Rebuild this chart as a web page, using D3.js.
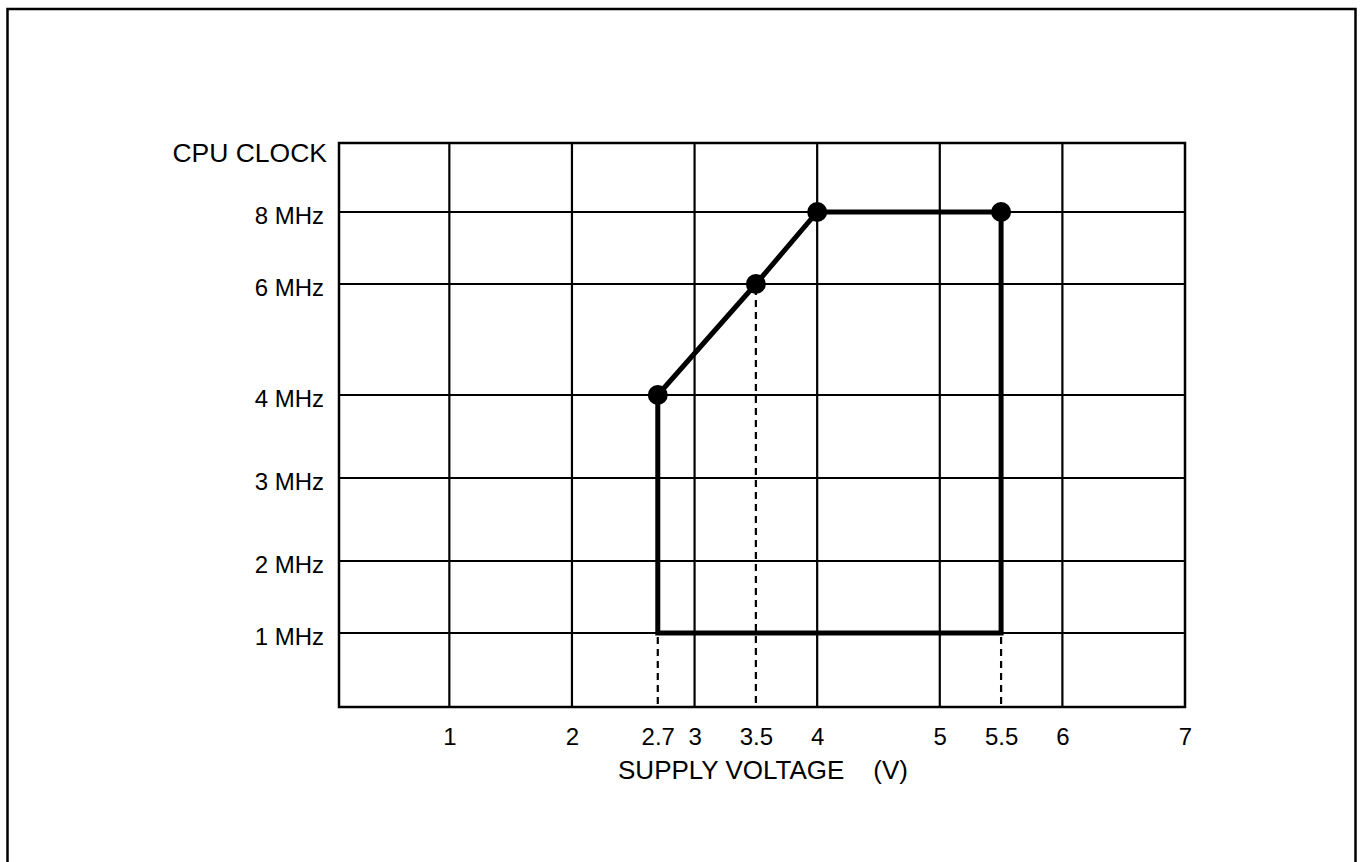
<!DOCTYPE html>
<html>
<head>
<meta charset="utf-8">
<script src="https://cdn.jsdelivr.net/npm/d3@7"></script>
<style>
	body { margin: 0; background: #fff; }
	svg { display: block; }
	text { font-family: Arial, "Liberation Sans", sans-serif; fill: #000; }
	.axis .domain { display: none; }
	.axis line { display: none; }
</style>
</head>
<body>
<svg id="chart" width="1362" height="862"></svg>
<script>
(function(){

	// values
	var xTicks = [1, 2, 2.7, 3, 3.5, 4, 5, 5.5, 6, 7];
	var xGrid = [1, 2, 3, 4, 5, 6];
	var yTicks = [1, 2, 3, 4, 6, 8];
	var yTickLabels = ["1 MHz", "2 MHz", "3 MHz", "4 MHz", "6 MHz", "8 MHz"];
	var voltage = [2.7, 2.7, 3.5, 4, 5.5, 5.5];
	var clock = [1, 4, 6, 8, 8, 1];
	var dotVoltage = [2.7, 3.5, 4, 5.5];
	var dotClock = [4, 6, 8, 8];
	var dashVoltage = [2.7, 3.5, 5.5];
	var dashFrom = [1, 6, 1];

	var margin = {top: 143, right: 177, bottom: 155, left: 339};

	var svg = d3.select("#chart");
	var width = +svg.attr("width") - margin.left - margin.right;
	var height = +svg.attr("height") - margin.top - margin.bottom;

	// outer frame (bottom edge runs off the page)
	svg.append("rect")
		.attr("x", 7.5)
		.attr("y", 9)
		.attr("width", 1348)
		.attr("height", 900)
		.attr("fill", "none")
		.attr("stroke", "#000")
		.attr("stroke-width", 2.5);

	var g = svg.append("g")
		.attr("transform", "translate(" + margin.left + "," + margin.top + ")");

	var x = d3.scaleLinear()
		.domain([0.1, 7])
		.range([0, width]);

	// the clock axis is not evenly spaced in the source, so piecewise
	var y = d3.scaleLinear()
		.domain([0, 1, 2, 3, 4, 6, 8, 10])
		.range([height, height - 74, height - 146, height - 229, height - 312, height - 423, height - 495, 0]);

	// grid
	g.append("g")
		.selectAll("line")
		.data(xGrid)
		.enter().append("line")
			.attr("x1", function(d){ return x(d); })
			.attr("x2", function(d){ return x(d); })
			.attr("y1", 0)
			.attr("y2", height)
			.attr("stroke", "#000")
			.attr("stroke-width", 2.2);

	g.append("g")
		.selectAll("line")
		.data(yTicks)
		.enter().append("line")
			.attr("x1", 0)
			.attr("x2", width)
			.attr("y1", function(d){ return y(d); })
			.attr("y2", function(d){ return y(d); })
			.attr("stroke", "#000")
			.attr("stroke-width", 2.2);

	g.append("rect")
		.attr("width", width)
		.attr("height", height)
		.attr("fill", "none")
		.attr("stroke", "#000")
		.attr("stroke-width", 2.5);

	// dashed drop lines
	g.append("g")
		.selectAll("line")
		.data(dashVoltage)
		.enter().append("line")
			.attr("x1", function(d){ return x(d); })
			.attr("x2", function(d){ return x(d); })
			.attr("y1", function(d, i){ return y(dashFrom[i]) + 4; })
			.attr("y2", height)
			.attr("stroke", "#000")
			.attr("stroke-width", 2.2)
			.attr("stroke-dasharray", "7,5");

	// operating area outline
	var pts = voltage.map(function(v, i){ return [v, clock[i]]; });
	var line = d3.line()
		.x(function(d){ return x(d[0]); })
		.y(function(d){ return y(d[1]); });

	g.append("path")
		.attr("d", line(pts) + "Z")
		.attr("fill", "none")
		.attr("stroke", "#000")
		.attr("stroke-width", 5)
		.attr("stroke-linejoin", "miter");

	g.append("g")
		.selectAll("circle")
		.data(dotVoltage)
		.enter().append("circle")
			.attr("cx", function(d){ return x(d); })
			.attr("cy", function(d, i){ return y(dotClock[i]); })
			.attr("r", 10)
			.attr("fill", "#000");

	// axes labels
	g.append("g")
		.attr("class", "axis axis-x")
		.attr("transform", "translate(0," + height + ")")
		.call(d3.axisBottom(x).tickValues(xTicks).tickSize(0).tickPadding(21).tickFormat(d3.format("")))
		.selectAll("text")
			.style("font-size", "24px");

	g.append("g")
		.attr("class", "axis axis-y")
		.call(d3.axisLeft(y).tickValues(yTicks).tickSize(0).tickPadding(15)
			.tickFormat(function(d, i){ return yTickLabels[i]; }))
		.selectAll("text")
			.style("font-size", "24px")
			.attr("dy", "0.48em");

	svg.selectAll(".axis").attr("font-family", null).attr("font-size", null);

	svg.append("text")
		.text("CPU CLOCK")
		.attr("x", margin.left - 12)
		.attr("y", margin.top + 19)
		.attr("text-anchor", "end")
		.style("font-size", "26.5px");

	svg.append("text")
		.text("SUPPLY VOLTAGE\u00a0\u00a0\u00a0\u00a0(V)")
		.attr("x", margin.left + width / 2 + 1)
		.attr("y", 779)
		.attr("text-anchor", "middle")
		.style("font-size", "26px");

})();
</script>
</body>
</html>
